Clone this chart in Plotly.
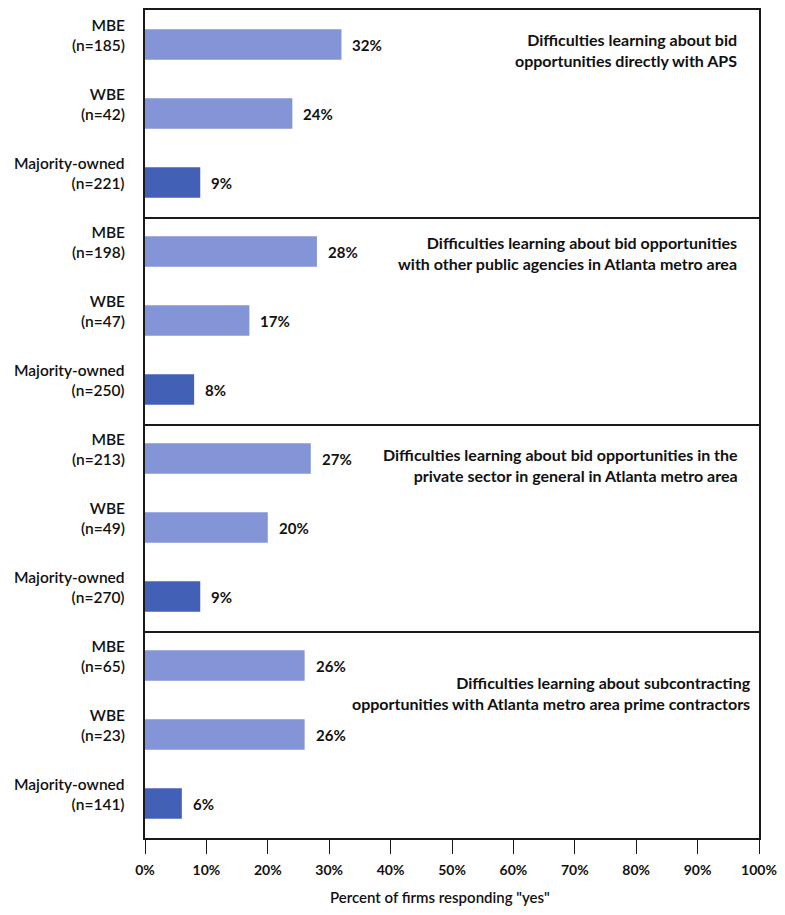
import plotly.graph_objects as go
from plotly.subplots import make_subplots

# Survey results: share of firms reporting each difficulty, by firm group
groups = ["MBE", "WBE", "Majority-owned"]
panel_titles = [
    "Difficulties learning about bid<br>opportunities directly with APS",
    "Difficulties learning about bid opportunities<br>with other public agencies in Atlanta metro area",
    "Difficulties learning about bid opportunities in the<br>private sector in general in Atlanta metro area",
    "Difficulties learning about subcontracting<br>opportunities with Atlanta metro area prime contractors",
]
sample_sizes = [
    [185, 42, 221],
    [198, 47, 250],
    [213, 49, 270],
    [65, 23, 141],
]
pct_yes = [
    [32, 24, 9],
    [28, 17, 8],
    [27, 20, 9],
    [26, 26, 6],
]
x_ticks = list(range(0, 101, 10))

LIGHT = "#8495d7"
DARK = "#4360b7"
FONT = "Lato"
LINE = "#1a1a1a"
bar_colors = [LIGHT, LIGHT, DARK]
# vertical offset (px) of each panel title below the panel's top edge
title_yshift = [-40, -36, -41, -62]
title_xshift = [-20, -20, -19, -6]

fig = make_subplots(rows=4, cols=1, shared_xaxes=True, vertical_spacing=0)

for p in range(4):
    row = p + 1
    ypos = list(range(len(groups)))
    fig.add_trace(
        go.Bar(
            x=pct_yes[p],
            y=ypos,
            orientation="h",
            width=0.44,
            marker=dict(color=bar_colors, line=dict(width=0)),
            hoverinfo="skip",
            showlegend=False,
        ),
        row=row, col=1,
    )
    xref = "x" if p == 0 else f"x{row}"
    yref = "y" if p == 0 else f"y{row}"
    for i, g in enumerate(groups):
        # value label to the right of the bar
        fig.add_annotation(
            x=pct_yes[p][i], y=i, xref=xref, yref=yref,
            text=f"<b>{pct_yes[p][i]}%</b>", showarrow=False,
            xanchor="left", xshift=9,
            font=dict(family=FONT, size=15, color="#111"),
        )
        # group label with sample size, left of the axis
        fig.add_annotation(
            x=0, y=i, xref=xref, yref=yref,
            text=f"{g}<br>(n={sample_sizes[p][i]})", showarrow=False,
            xanchor="right", align="right", xshift=-18, yshift=10,
            font=dict(family=FONT, size=15.5, color="#111", weight=600),
        )
    # panel title, right-aligned near the panel's top right corner
    fig.add_annotation(
        x=100, y=-0.5, xref=xref, yref=yref,
        text=f"<b>{panel_titles[p]}</b>", showarrow=False,
        xanchor="right", yanchor="middle", align="right",
        xshift=title_xshift[p], yshift=title_yshift[p],
        font=dict(family=FONT, size=16, color="#111"),
    )

    fig.update_yaxes(
        range=[2.5, -0.5], showticklabels=False, ticks="",
        showline=True, mirror=True, linecolor=LINE, linewidth=1.5,
        showgrid=False, zeroline=False, fixedrange=True,
        row=row, col=1,
    )
    fig.update_xaxes(
        range=[0, 100], showline=True, mirror=(row == 1), linecolor=LINE,
        linewidth=1.5, showgrid=False, zeroline=False,
        row=row, col=1,
    )

fig.update_xaxes(
    tickvals=x_ticks, ticktext=[f"{v}%" for v in x_ticks],
    ticks="outside", ticklen=14, tickcolor=LINE, tickwidth=1.2,
    ticklabelstandoff=4,
    tickfont=dict(family=FONT, size=14, color="#111", weight="bold"),
    row=4, col=1,
)

fig.add_annotation(
    x=0.5, y=0, xref="paper", yref="paper", xshift=-12, yshift=-59,
    text='Percent of firms responding "yes"', showarrow=False,
    xanchor="center", yanchor="middle",
    font=dict(family=FONT, size=15, color="#111", weight=600),
)

fig.update_layout(
    width=785, height=915,
    margin=dict(l=145, r=21, t=8, b=77),
    paper_bgcolor="white", plot_bgcolor="white",
    bargap=0.5,
)

fig.write_html("out.html")
